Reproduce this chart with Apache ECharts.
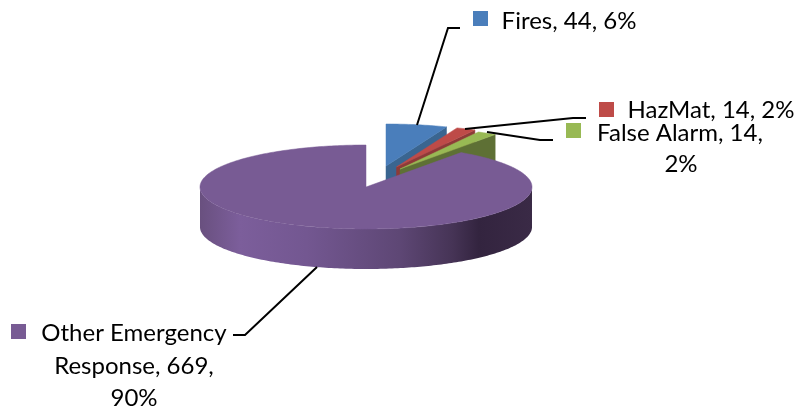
<!DOCTYPE html>
<html>
<head>
<meta charset="utf-8">
<style>html,body{margin:0;padding:0;background:#fff}#c{width:798px;height:408px}</style>
<script src="https://cdn.jsdelivr.net/npm/echarts@6/dist/echarts.min.js"></script>
</head>
<body>
<div id="c"></div>
<script>
const categories = ['Fires', 'HazMat', 'False Alarm', 'Other Emergency Response'];
const values = [44, 14, 14, 669];
const percents = [6, 2, 2, 90];
const labelLines = [
  ['Fires, 44, 6%'],
  ['HazMat, 14, 2%'],
  ['False Alarm, 14,', '2%'],
  ['Other Emergency', 'Response, 669,', '90%']
];
const topColors = ['#4A7EBB', '#BE4B48', '#98B954', '#785B94'];
const wallColors = ['#3A6590', '#8E3A38', '#5E7035', '#5A4570'];

// presentation only: pie projection, slice apexes, label placement
const RX = 166, RY = 42, DEPTH = 40;
const apex = [[386, 166], [396.5, 167], [400, 169], [366, 187]];
const markers = [[473, 11], [599, 102], [566, 123], [11, 324]];
const MARK = 15;
const textAnchors = [
  [[569, 21]],
  [[711, 110]],
  [[680, 133], [681, 164]],
  [[134, 333], [134, 366], [134, 398]]
];
const leaders = [
  [[417, 125], [448, 28], [460, 28]],
  [[465, 129], [573, 118], [586, 118]],
  [[487, 132], [540, 140], [553, 140]],
  [[317, 267], [245, 335], [233, 335]]
];
const FONT = '24px Lato, Carlito, sans-serif';
const LINE_W = 2;

const total = values.reduce((a, b) => a + b, 0);
const cum = [0];
values.forEach((v, i) => cum.push(cum[i] + v));

function pt(c, deg, dz) {
  const r = deg * Math.PI / 180;
  return [c[0] + RX * Math.sin(r), c[1] - RY * Math.cos(r) + (dz || 0)];
}
function arc(c, a0, a1, dz) {
  const n = Math.max(2, Math.ceil(Math.abs(a1 - a0)));
  const out = [];
  for (let i = 0; i <= n; i++) out.push(pt(c, a0 + (a1 - a0) * i / n, dz));
  return out;
}
const poly = (points, fill) => ({
  type: 'polygon', shape: { points: points }, style: { fill: fill, stroke: fill, lineWidth: 0.5 }
});

function renderItem(params, api) {
  const i = params.dataIndex;
  const a0 = cum[i] / total * 360, a1 = cum[i + 1] / total * 360;
  const c = apex[i];
  const kids = [];
  if (i < 3) {
    kids.push(poly([c, pt(c, a1), pt(c, a1, DEPTH), [c[0], c[1] + DEPTH]], wallColors[i]));
    const lo = Math.max(a0, 90), hi = Math.min(a1, 270);
    if (hi > lo) kids.push(poly(arc(c, lo, hi).concat(arc(c, hi, lo, DEPTH)), wallColors[i]));
  } else {
    const outer = arc(c, 90, 270).concat(arc(c, 270, 90, DEPTH));
    const fill = new echarts.graphic.LinearGradient(c[0] - RX, 0, c[0] + RX, 0, [
      { offset: 0, color: '#69507F' },
      { offset: 0.12, color: '#7C5E9B' },
      { offset: 0.32, color: '#735791' },
      { offset: 0.60, color: '#5E4775' },
      { offset: 0.76, color: '#463456' },
      { offset: 0.84, color: '#33243F' },
      { offset: 1, color: '#3A2A46' }
    ], true);
    kids.push({ type: 'polygon', shape: { points: outer }, style: { fill: fill } });
  }
  kids.push(poly([c].concat(arc(c, a0, a1)), topColors[i]));
  kids.push({
    type: 'polyline', shape: { points: leaders[i] },
    style: { fill: 'none', stroke: '#000', lineWidth: LINE_W }, z2: 20
  });
  kids.push({
    type: 'rect', shape: { x: markers[i][0], y: markers[i][1], width: MARK, height: MARK },
    style: { fill: topColors[i] }, z2: 20
  });
  labelLines[i].forEach((t, k) => {
    kids.push({
      type: 'text', z2: 21,
      style: {
        text: t, x: textAnchors[i][k][0], y: textAnchors[i][k][1],
        font: FONT, fill: '#000', align: 'center', verticalAlign: 'middle'
      }
    });
  });
  return { type: 'group', children: kids };
}

const chart = echarts.init(document.getElementById('c'));
chart.setOption({
  animation: false,
  backgroundColor: '#fff',
  series: [{
    type: 'custom',
    coordinateSystem: 'none',
    silent: true,
    clip: false,
    renderItem: renderItem,
    data: values.map((v, i) => ({ name: categories[i], value: [v, percents[i]] }))
  }]
});
</script>
</body>
</html>
